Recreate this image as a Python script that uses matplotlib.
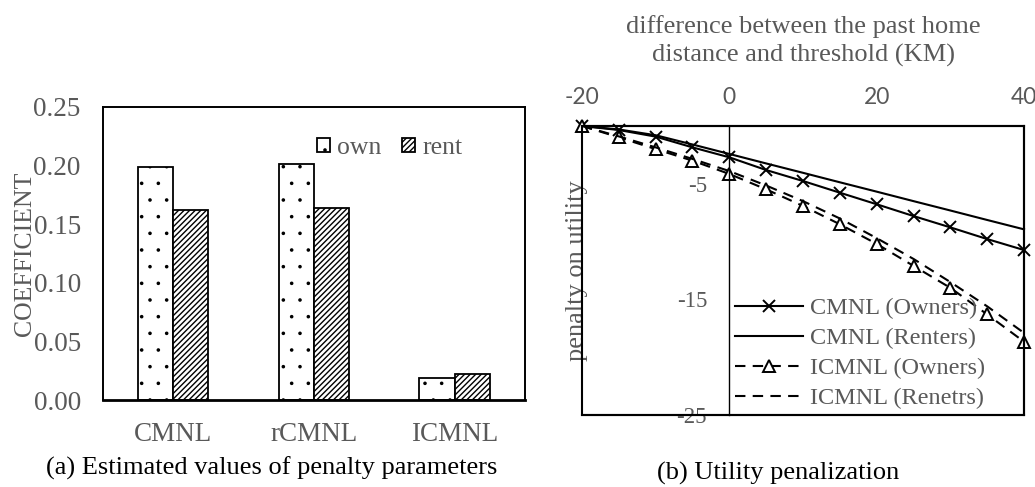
import numpy as np
import matplotlib.pyplot as plt
import matplotlib.hatch as mhatch
from matplotlib.patches import Rectangle

# (a) penalty parameter estimates
models = ['CMNL', 'rCMNL', 'ICMNL']
own = [0.199, 0.201, 0.019]
rent = [0.162, 0.164, 0.022]

# (b) utility penalty vs. distance beyond threshold (km)
dist = [-20, -15, -10, -5, 0, 5, 10, 15, 20, 25, 30, 35, 40]
cmnl_owners = [0, -0.35, -0.92, -1.85, -2.71, -3.81, -4.76, -5.77, -6.77, -7.79, -8.77, -9.78, -10.73]
cmnl_renters = [0, -0.3, -0.8, -1.6, -2.42, -3.24, -4.05, -4.87, -5.68, -6.5, -7.31, -8.13, -8.94]
icmnl_owners = [0, -0.98, -2.0, -3.0, -4.15, -5.48, -6.92, -8.5, -10.2, -12.1, -14.0, -16.3, -18.66]
icmnl_renters = [0, -0.9, -1.85, -2.85, -3.9, -5.15, -6.5, -8.0, -9.7, -11.5, -13.5, -15.6, -17.9]

GRAY = '#595959'
SANS = 'Lato'
plt.rcParams['font.family'] = 'Liberation Serif'
plt.rcParams['axes.unicode_minus'] = False
plt.rcParams['hatch.linewidth'] = 1.0
# smaller dots for the '.' hatch
mhatch.SmallFilledCircles.size = 0.065

fig = plt.figure(figsize=(10.35, 4.87), dpi=100)

# ---- left: bar chart ----
ax1 = fig.add_axes([0.0995, 0.1786, 0.4077, 0.6017])
x = np.arange(len(models))
w = 0.25
ax1.bar(x - w / 2, own, w, facecolor='white', edgecolor='black', hatch='.',
        linewidth=1.3, label='own')
ax1.bar(x + w / 2, rent, w, facecolor='white', edgecolor='black', hatch='//////',
        linewidth=1.3, label='rent')
ax1.set_xlim(-0.5, 2.5)
ax1.set_ylim(0, 0.25)
ax1.set_yticks(np.arange(0, 0.26, 0.05))
ax1.yaxis.set_major_formatter(lambda v, p: f'{v:.2f}')
ax1.set_xticks(x, models)
ax1.tick_params(length=0, labelsize=19.5, colors=GRAY, pad=16)
for side in ['left', 'top', 'right']:
    ax1.spines[side].set_linewidth(1.4)
ax1.spines['bottom'].set_linewidth(2.0)
ax1.set_ylabel('COEFFICIENT', fontsize=18.5, color=GRAY)
ax1.yaxis.set_label_coords(-0.158, 0.5)
ax1.legend(loc='center', bbox_to_anchor=(0.68, 0.86), ncol=2, frameon=False,
           fontsize=18.5, labelcolor=GRAY, handlelength=0.5, handleheight=0.5,
           handletextpad=0.3, columnspacing=0.8, borderpad=0)

# ---- right: penalty curves ----
ax2 = fig.add_axes([0.5623, 0.1478, 0.4271, 0.5935])
dash = (0, (5, 3.5))
ax2.plot(dist, cmnl_owners, color='black', lw=1.5, marker='x', ms=8.5, mew=1.4,
         clip_on=False, label='CMNL (Owners)')
ax2.plot(dist, cmnl_renters, color='black', lw=1.5, clip_on=False,
         label='CMNL (Renters)')
ax2.plot(dist, icmnl_owners, color='black', lw=1.5, ls=dash, marker='^', ms=8,
         mfc='white', mew=1.4, clip_on=False, label='ICMNL (Owners)')
ax2.plot(dist, icmnl_renters, color='black', lw=1.5, ls=dash, clip_on=False,
         label='ICMNL (Renetrs)')
ax2.set_xlim(-20, 40)
ax2.set_ylim(-25, 0)
ax2.set_xticks([-20, 0, 20, 40])
ax2.set_yticks([-25, -15, -5])
ax2.xaxis.tick_top()
ax2.xaxis.set_label_position('top')
ax2.tick_params(axis='x', length=0, pad=13, labelsize=16.5, colors=GRAY)
ax2.tick_params(axis='y', length=0, pad=16, labelsize=16.5, colors=GRAY)
for lab in ax2.get_xticklabels() + ax2.get_yticklabels():
    lab.set_family(SANS)
for side in ['top', 'bottom', 'right']:
    ax2.spines[side].set_linewidth(1.5)
ax2.spines['left'].set_position(('data', 0))
ax2.spines['left'].set_linewidth(1.0)
ax2.add_patch(Rectangle((0, 0), 1, 1, transform=ax2.transAxes, fill=False,
                        lw=1.5, ec='black', clip_on=False, zorder=3))
ax2.set_xlabel('difference between the past home\ndistance and threshold (KM)',
               fontsize=19, color=GRAY, linespacing=1.3, labelpad=18.5)
ax2.set_ylabel('penalty on utility', fontsize=19, color=GRAY)
ax2.yaxis.set_label_coords(0.014, 0.5)
ax2.legend(loc='upper left', bbox_to_anchor=(735 / 1035, 1 - 297 / 487),
           bbox_transform=fig.transFigure, frameon=False, fontsize=17.5,
           labelcolor=GRAY, handlelength=2.8, handletextpad=0.3,
           labelspacing=0.33, borderpad=0, borderaxespad=0)

# captions
fig.text(272 / 1035, 1 - 468 / 487, '(a) Estimated values of penalty parameters',
         ha='center', va='center', fontsize=19, color='black')
fig.text(778 / 1035, 1 - 473 / 487, '(b) Utility penalization',
         ha='center', va='center', fontsize=19, color='black')

fig.savefig('out.png', dpi=100)
